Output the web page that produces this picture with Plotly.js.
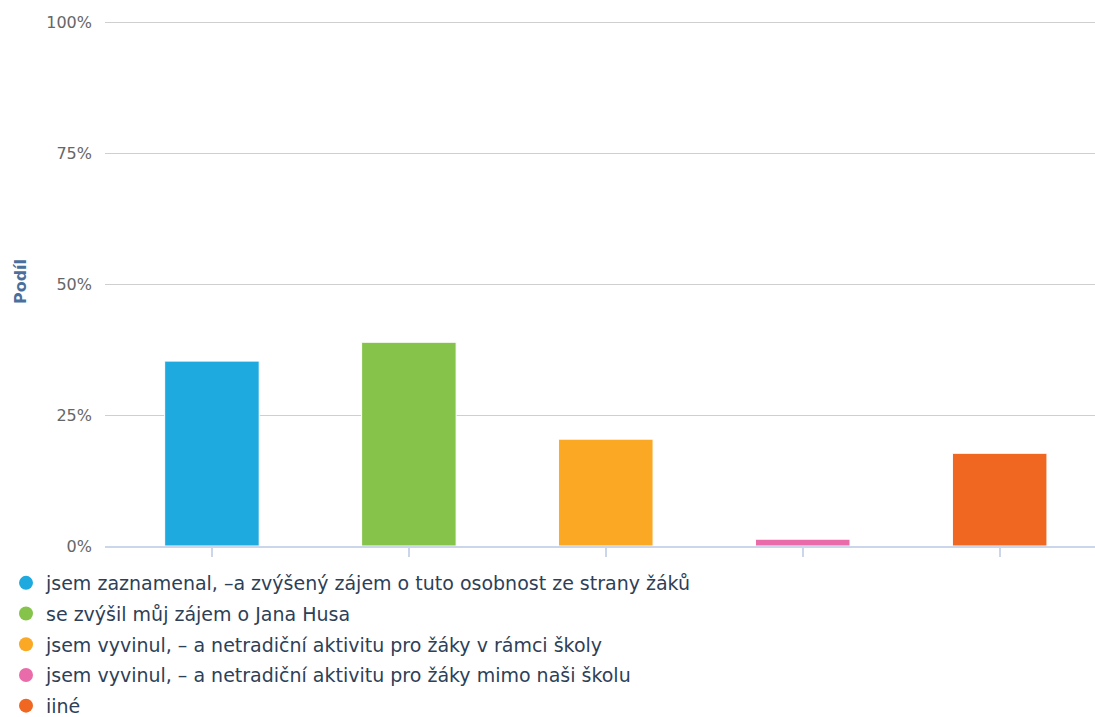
<!DOCTYPE html>
<html>
<head>
<meta charset="utf-8">
<script src="https://cdn.plot.ly/plotly-3.0.1.min.js"></script>
<style>html,body{margin:0;padding:0;background:#fff;}#chart{width:1095px;height:717px;}</style>
</head>
<body>
<div id="chart"></div>
<script>
var categories = [
  "jsem zaznamenal, –a zvýšený zájem o tuto osobnost ze strany žáků",
  "se zvýšil můj zájem o Jana Husa",
  "jsem vyvinul, – a netradiční aktivitu pro žáky v rámci školy",
  "jsem vyvinul, – a netradiční aktivitu pro žáky mimo naši školu",
  "iiné"
];
var values = [35.3, 38.9, 20.4, 1.3, 17.7];
var colors = ["#1ea9df", "#86c34a", "#fba924", "#e96ba9", "#f06722"];
var yTicks = [0, 25, 50, 75, 100];
var yTickLabels = ["0%", "25%", "50%", "75%", "100%"];
var yTitle = "Podíl";

var FONT = "DejaVu Sans, Verdana, sans-serif";
var xIdx = categories.map(function(c, i){ return i; });
var traces = [];
traces.push({
  type: "bar",
  x: xIdx,
  y: values,
  marker: {color: colors, line: {color: "#ffffff", width: 1}},
  width: 0.48,
  showlegend: false,
  hoverinfo: "y"
});
categories.forEach(function(c, i){
  traces.push({
    type: "scatter",
    mode: "markers",
    x: [null], y: [null],
    name: c,
    legendgroup: "g" + i,
    marker: {symbol: "circle", size: 14, color: colors[i]},
    showlegend: true
  });
});

var layout = {
  width: 1095, height: 717,
  margin: {l: 105, r: 0, t: 17, b: 171, autoexpand: false},
  paper_bgcolor: "#ffffff",
  plot_bgcolor: "#ffffff",
  font: {family: FONT},
  showlegend: true,
  xaxis: {
    range: [-0.543, 4.484],
    tickvals: xIdx,
    ticktext: categories.map(function(){ return ""; }),
    showticklabels: false,
    ticks: "outside", ticklen: 9, tickcolor: "#ccd6eb", tickwidth: 1.5,
    showgrid: false, zeroline: false,
    showline: true, linecolor: "#ccd6eb", linewidth: 1.5,
    fixedrange: true
  },
  yaxis: {
    range: [0, 101],
    tickvals: yTicks,
    ticktext: yTickLabels,
    tickfont: {size: 16, color: "#666666", family: FONT},
    ticks: "", ticklabelstandoff: 12,
    showgrid: true, gridcolor: "#cfcfcf", gridwidth: 1.3,
    zeroline: false, showline: false,
    title: {text: "<b>" + yTitle + "</b>", font: {size: 16, color: "#4a6f9c", family: FONT}, standoff: 15},
    fixedrange: true
  },
  legend: {
    orientation: "v",
    x: -0.1, xanchor: "left",
    y: -0.034, yanchor: "top",
    traceorder: "grouped",
    tracegroupgap: 3,
    font: {size: 19, color: "#2e3f57", family: FONT},
    bgcolor: "rgba(0,0,0,0)",
    itemclick: false, itemdoubleclick: false
  }
};

Plotly.newPlot("chart", traces, layout, {displayModeBar: false});
</script>
</body>
</html>
